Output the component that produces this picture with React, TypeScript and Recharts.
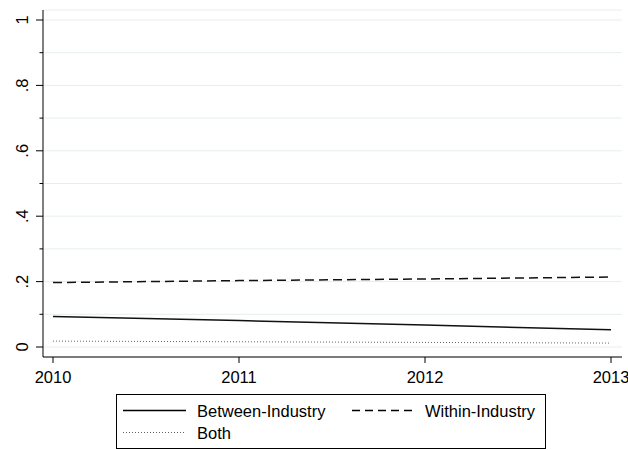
import React from "react";
import { LineChart, Line, XAxis, YAxis, CartesianGrid, Legend } from "recharts";

const years = [2010, 2011, 2012, 2013];
const betweenIndustry = [0.093, 0.081, 0.067, 0.053];
const withinIndustry = [0.197, 0.203, 0.208, 0.214];
const both = [0.018, 0.016, 0.014, 0.012];

const yTicks = [0, 0.1, 0.2, 0.3, 0.4, 0.5, 0.6, 0.7, 0.8, 0.9, 1];
const yLabels = ["0", "", ".2", "", ".4", "", ".6", "", ".8", "", "1"];
const xTicks = [2010, 2011, 2012, 2013];

const seriesNames = ["Between-Industry", "Within-Industry", "Both"];

const data = years.map((y, i) => ({
  year: y,
  between: betweenIndustry[i],
  within: withinIndustry[i],
  both: both[i],
}));

const FONT = "'Liberation Sans', Arial, sans-serif";
const FS = 16.5;

const YTick = (props: any) => {
  const { x, y, index } = props;
  const label = yLabels[index];
  const major = label !== "";
  const len = major ? 7 : 3.5;
  return (
    <g>
      <line x1={x - len} y1={y} x2={x} y2={y} stroke="#000" strokeWidth={1} />
      {major && (
        <text
          x={28}
          y={y}
          transform={`rotate(-90, 28, ${y})`}
          textAnchor="middle"
          fontSize={FS}
          fontFamily={FONT}
          fill="#000"
        >
          {label}
        </text>
      )}
    </g>
  );
};

const LegendBox = () => (
  <svg width={430} height={55} style={{ display: "block" }}>
    <rect x={0.5} y={0.5} width={429} height={54} fill="#fff" stroke="#000" strokeWidth={1} />
    <line x1={7} y1={16.5} x2={70} y2={16.5} stroke="#000" strokeWidth={1.5} />
    <text x={81} y={22.5} fontSize={FS} fontFamily={FONT} fill="#000">
      {seriesNames[0]}
    </text>
    <line x1={236} y1={16.5} x2={298} y2={16.5} stroke="#000" strokeWidth={1.5} strokeDasharray="8 5" />
    <text x={309} y={22.5} fontSize={FS} fontFamily={FONT} fill="#000">
      {seriesNames[1]}
    </text>
    <line x1={7} y1={38.5} x2={70} y2={38.5} stroke="#666" strokeWidth={1} strokeDasharray="1 2" />
    <text x={81} y={44.5} fontSize={FS} fontFamily={FONT} fill="#000">
      {seriesNames[2]}
    </text>
  </svg>
);

export default function App() {
  return (
    <div style={{ position: "absolute", left: 0, top: 0, background: "#fff" }}>
      <LineChart
        width={628}
        height={450}
        data={data}
        margin={{ top: 10, right: 6, bottom: 0, left: 0 }}
      >
        <CartesianGrid horizontal vertical={false} stroke="#e6eef0" strokeWidth={1} />
        <XAxis
          dataKey="year"
          type="number"
          domain={[2010, 2013]}
          ticks={xTicks}
          interval={0}
          padding={{ left: 10, right: 11 }}
          height={93}
          tickSize={6}
          tickMargin={8}
          stroke="#000"
          tick={{ fill: "#000", fontSize: FS, fontFamily: FONT }}
        />
        <YAxis
          type="number"
          domain={[0, 1]}
          ticks={yTicks}
          interval={0}
          width={43}
          padding={{ top: 10, bottom: 10 }}
          tickSize={0}
          tickMargin={0}
          tickLine={false}
          stroke="#000"
          tick={<YTick />}
        />
        <Line
          dataKey="between"
          name={seriesNames[0]}
          stroke="#111"
          strokeWidth={1.5}
          dot={false}
          type="linear"
          isAnimationActive={false}
        />
        <Line
          dataKey="within"
          name={seriesNames[1]}
          stroke="#111"
          strokeWidth={1.5}
          strokeDasharray="9 5"
          dot={false}
          type="linear"
          isAnimationActive={false}
        />
        <Line
          dataKey="both"
          name={seriesNames[2]}
          stroke="#666"
          strokeWidth={1}
          strokeDasharray="1 2"
          dot={false}
          type="linear"
          isAnimationActive={false}
        />
        <Legend
          layout="horizontal"
          verticalAlign="middle"
          align="center"
          content={<LegendBox />}
          wrapperStyle={{ position: "absolute", left: 116, top: 394, width: 430, height: 55 }}
        />
      </LineChart>
    </div>
  );
}
